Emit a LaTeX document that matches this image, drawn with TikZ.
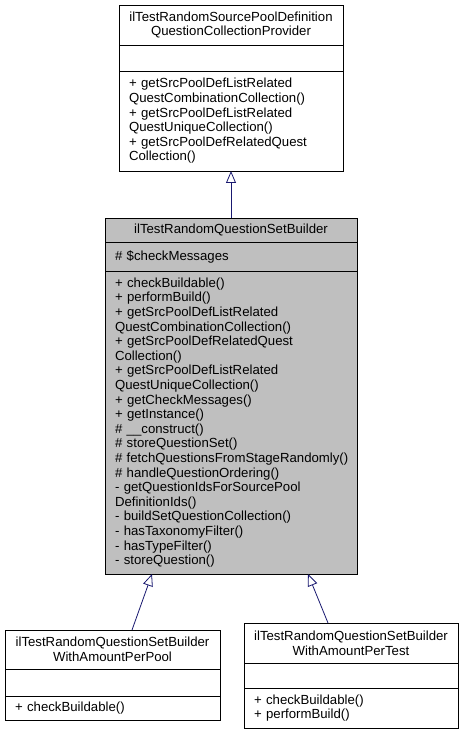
\documentclass[tikz,border=0pt]{standalone}
\usepackage{fontspec}
\setmainfont{Liberation Sans}
\usetikzlibrary{positioning,calc}
\usetikzlibrary{arrows.meta}
\definecolor{ClassGray}{RGB}{191,191,191}
\definecolor{EdgeNavy}{RGB}{25,25,112}
\tikzset{
  part/.style={draw=black,line width=0.8pt,anchor=north west,outer sep=0pt,
    inner xsep=10pt,inner ysep=0pt,align=left,font=\fontsize{13.2}{14.6}\selectfont},
  head/.style={part,align=center},
  inherit/.style={draw=EdgeNavy,line width=0.8pt,-{Triangle[open,length=12pt,width=10pt]}},
}

\begin{document}
\begin{tikzpicture}[x=1pt,y=-1pt]
\useasboundingbox (0,0) rectangle (464,735);
% provider (base class)
\node[head,text width=204pt,minimum height=40pt] (providerT) at (119,5) {ilTestRandomSourcePoolDefinition\\QuestionCollectionProvider};
\node[part,text width=204pt,minimum height=26pt] (providerA) at (providerT.south west) {};
\node[part,text width=204pt,minimum height=100pt] (providerM) at (providerA.south west) {+ getSrcPoolDefListRelated\\QuestCombinationCollection()\\+ getSrcPoolDefListRelated\\QuestUniqueCollection()\\+ getSrcPoolDefRelatedQuest\\Collection()};
% builder
\node[head,fill=ClassGray,text width=232pt,minimum height=24pt] (builderT) at (105,218) {ilTestRandomQuestionSetBuilder};
\node[part,fill=ClassGray,text width=232pt,minimum height=29pt] (builderA) at (builderT.south west) {\# \$checkMessages};
\node[part,fill=ClassGray,text width=232pt,minimum height=303pt] (builderM) at (builderA.south west) {+ checkBuildable()\\+ performBuild()\\+ getSrcPoolDefListRelated\\QuestCombinationCollection()\\+ getSrcPoolDefRelatedQuest\\Collection()\\+ getSrcPoolDefListRelated\\QuestUniqueCollection()\\+ getCheckMessages()\\+ getInstance()\\\# \_\_construct()\\\# storeQuestionSet()\\\mbox{\# fetchQuestionsFromStageRandomly()}\\\# handleQuestionOrdering()\\- getQuestionIdsForSourcePool\\DefinitionIds()\\- buildSetQuestionCollection()\\- hasTaxonomyFilter()\\- hasTypeFilter()\\- storeQuestion()};
% per pool
\node[head,text width=195pt,minimum height=39pt] (poolT) at (5,630) {ilTestRandomQuestionSetBuilder\\WithAmountPerPool};
\node[part,text width=195pt,minimum height=27pt] (poolA) at (poolT.south west) {};
\node[part,text width=195pt,minimum height=24pt] (poolM) at (poolA.south west) {+ checkBuildable()};
% per test
\node[head,text width=194pt,minimum height=40pt] (testT) at (244,623) {ilTestRandomQuestionSetBuilder\\WithAmountPerTest};
\node[part,text width=194pt,minimum height=25pt] (testA) at (testT.south west) {};
\node[part,text width=194pt,minimum height=40pt] (testM) at (testA.south west) {+ checkBuildable()\\+ performBuild()};
% inheritance
\draw[inherit] (builderT.north) -- (providerM.south);
\draw[inherit] ($(poolT.north)+(19.5,0)$) -- ($(builderM.south)+(-79,0)$);
\draw[inherit] ($(testT.north)+(-23,0)$) -- ($(builderM.south)+(77,0)$);
\end{tikzpicture}
\end{document}
